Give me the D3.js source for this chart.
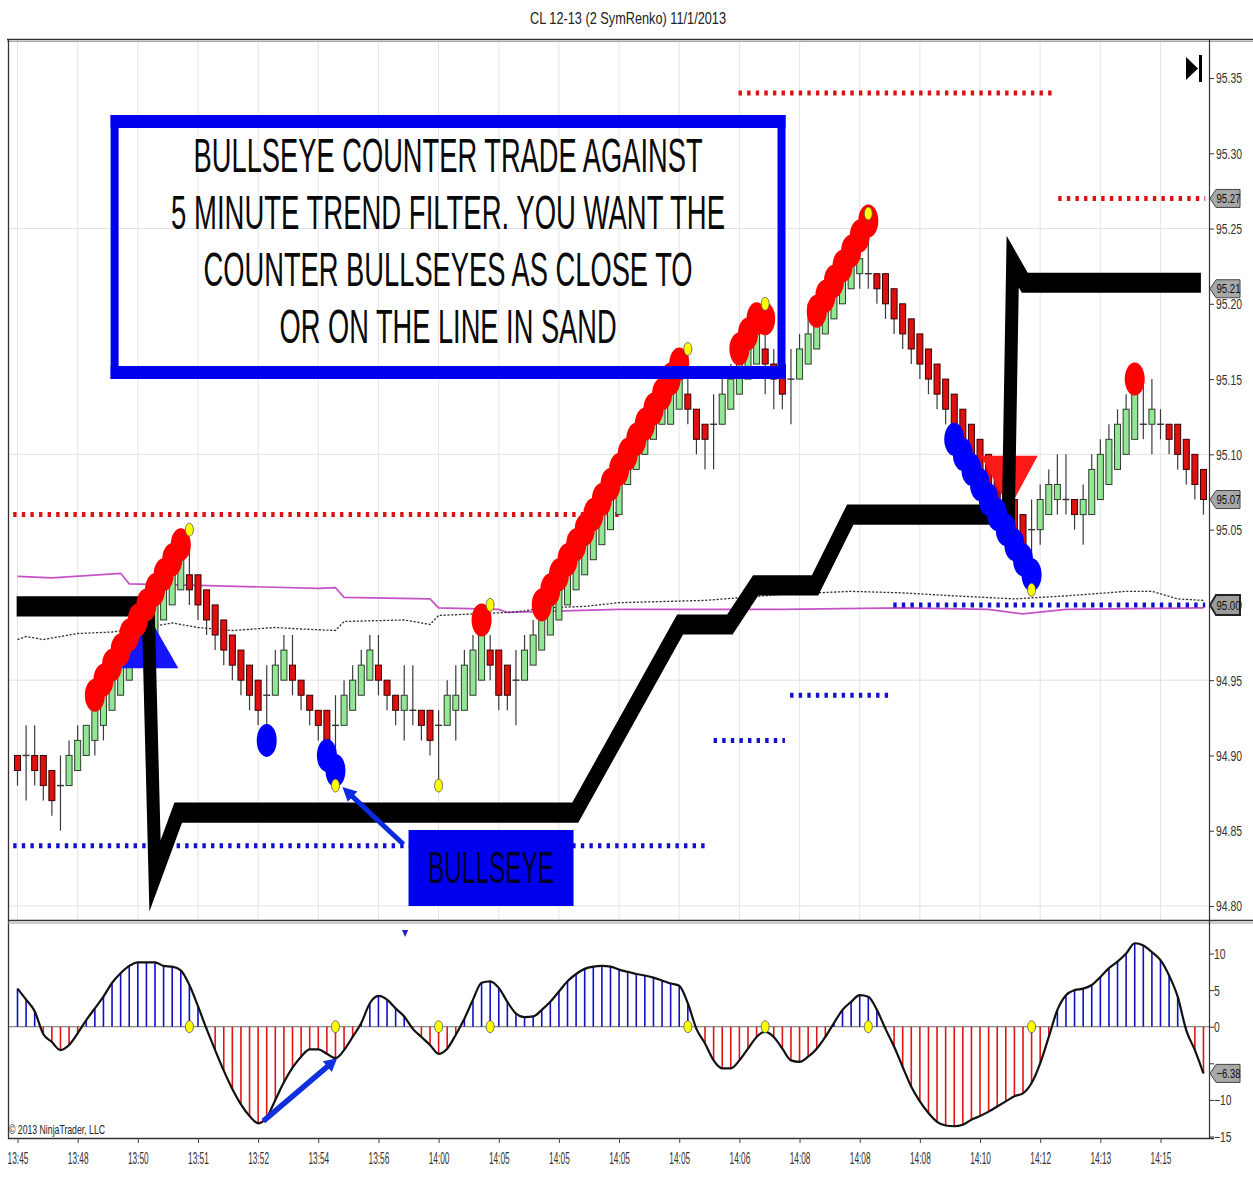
<!DOCTYPE html>
<html><head><meta charset="utf-8">
<script src="https://cdn.jsdelivr.net/npm/d3@7"></script>
<style>body{margin:0;background:#fff}svg{display:block}</style>
</head><body>
<svg id="c" width="1253" height="1199"></svg>
<script>
// ---------------- DATA ----------------
const chartTitle = "CL 12-13 (2 SymRenko)  11/1/2013";
const timeLabels = ["13:45","13:48","13:50","13:51","13:52","13:54","13:56","14:00","14:05","14:05","14:05","14:05","14:06","14:08","14:08","14:08","14:10","14:12","14:13","14:15"];
const priceTicks = [94.80,94.85,94.90,94.95,95.00,95.05,95.10,95.15,95.20,95.25,95.30,95.35];
const gridPrices = [94.80,94.95,95.10,95.25];
const oscTicks = [10,5,0,-5,-10,-15];

const opens = [94.90,94.90,94.90,94.90,94.89,94.88,94.88,94.89,94.90,94.91,
 94.92,94.93,94.94,94.95,94.96,94.97,94.98,94.99,95.00,95.01,
 95.02,95.02,95.01,95.00,94.99,94.98,94.97,94.96,94.95,94.94,
 94.94,94.95,94.96,94.95,94.94,94.93,94.93,94.92,94.92,94.93,
 94.94,94.95,94.96,94.95,94.94,94.93,94.93,94.93,94.93,94.92,
 94.92,94.93,94.93,94.94,94.95,94.97,94.97,94.96,94.95,94.95,
 94.96,94.97,94.98,94.99,95.00,95.01,95.02,95.03,95.04,95.05,
 95.06,95.08,95.09,95.10,95.11,95.12,95.12,95.13,95.14,95.13,
 95.12,95.12,95.12,95.13,95.14,95.15,95.16,95.17,95.16,95.16,
 95.15,95.15,95.16,95.17,95.18,95.19,95.20,95.21,95.22,95.22,
 95.22,95.22,95.21,95.20,95.19,95.18,95.17,95.16,95.15,95.14,
 95.13,95.12,95.11,95.10,95.09,95.08,95.07,95.06,95.05,95.05,
 95.06,95.07,95.07,95.07,95.06,95.06,95.07,95.08,95.09,95.10,
 95.11,95.12,95.12,95.12,95.12,95.12,95.11,95.10,95.09];
const highs = [94.90,94.92,94.92,94.90,94.89,94.90,94.91,94.92,94.92,94.93,
 94.94,94.95,94.96,94.97,94.98,94.99,95.00,95.01,95.02,95.03,
 95.04,95.02,95.01,95.00,94.99,94.98,94.97,94.96,94.95,94.96,
 94.97,94.98,94.98,94.95,94.94,94.93,94.93,94.94,94.95,94.96,
 94.97,94.98,94.98,94.95,94.94,94.96,94.96,94.93,94.93,94.93,
 94.95,94.96,94.97,94.98,95.00,94.98,94.97,94.96,94.97,94.98,
 94.99,95.00,95.01,95.02,95.03,95.04,95.05,95.06,95.07,95.08,
 95.09,95.11,95.12,95.13,95.14,95.15,95.15,95.16,95.17,95.13,
 95.12,95.14,95.15,95.16,95.17,95.18,95.19,95.20,95.17,95.16,
 95.17,95.18,95.20,95.20,95.21,95.22,95.23,95.24,95.25,95.26,
 95.22,95.22,95.21,95.20,95.19,95.18,95.17,95.16,95.15,95.14,
 95.13,95.12,95.11,95.10,95.09,95.08,95.07,95.06,95.07,95.08,
 95.09,95.10,95.10,95.07,95.08,95.10,95.11,95.12,95.13,95.14,
 95.15,95.15,95.15,95.13,95.12,95.12,95.11,95.10,95.09];
const lows = [94.88,94.87,94.88,94.87,94.86,94.85,94.88,94.89,94.90,94.90,
 94.91,94.93,94.94,94.95,94.96,94.97,94.98,94.99,95.00,95.01,
 95.00,94.99,94.98,94.97,94.96,94.95,94.94,94.93,94.92,94.92,
 94.94,94.95,94.94,94.93,94.92,94.91,94.90,94.88,94.92,94.93,
 94.94,94.95,94.94,94.93,94.92,94.91,94.92,94.91,94.90,94.88,
 94.92,94.91,94.93,94.94,94.95,94.95,94.93,94.93,94.92,94.95,
 94.96,94.97,94.98,94.99,95.00,95.01,95.02,95.03,95.04,95.05,
 95.06,95.08,95.09,95.10,95.11,95.12,95.12,95.13,95.12,95.10,
 95.09,95.09,95.12,95.13,95.14,95.15,95.16,95.14,95.13,95.13,
 95.12,95.15,95.16,95.17,95.18,95.19,95.20,95.21,95.21,95.21,
 95.20,95.19,95.18,95.17,95.16,95.15,95.14,95.13,95.12,95.11,
 95.10,95.09,95.08,95.07,95.06,95.05,95.04,95.03,95.01,95.04,
 95.06,95.06,95.06,95.05,95.04,95.06,95.07,95.08,95.09,95.10,
 95.11,95.11,95.10,95.11,95.10,95.09,95.08,95.07,95.06];
const closes = [94.89,94.90,94.89,94.88,94.87,94.88,94.90,94.91,94.92,94.93,
 94.94,94.95,94.96,94.97,94.98,94.99,95.00,95.01,95.02,95.03,
 95.01,95.00,94.99,94.98,94.97,94.96,94.95,94.94,94.93,94.94,
 94.96,94.97,94.95,94.94,94.93,94.92,94.91,94.92,94.94,94.95,
 94.96,94.97,94.95,94.94,94.93,94.94,94.93,94.92,94.91,94.92,
 94.94,94.94,94.96,94.97,94.98,94.96,94.94,94.94,94.95,94.97,
 94.98,94.99,95.00,95.01,95.02,95.03,95.04,95.05,95.06,95.07,
 95.08,95.10,95.11,95.12,95.13,95.14,95.14,95.15,95.13,95.11,
 95.11,95.12,95.14,95.15,95.16,95.17,95.18,95.16,95.15,95.14,
 95.15,95.17,95.18,95.19,95.20,95.21,95.22,95.23,95.23,95.22,
 95.21,95.20,95.19,95.18,95.17,95.16,95.15,95.14,95.13,95.12,
 95.11,95.10,95.09,95.08,95.07,95.06,95.05,95.04,95.05,95.07,
 95.08,95.08,95.07,95.06,95.07,95.09,95.10,95.11,95.12,95.13,
 95.14,95.12,95.13,95.12,95.11,95.10,95.09,95.08,95.07];

const oscValues = [5.2,3.7,2.1,-1.0,-2.1,-3.2,-2.5,-0.9,0.9,2.5,
 4.1,6.0,7.3,8.3,8.8,8.8,8.8,8.3,8.2,7.7,
 5.7,2.8,-0.3,-3.2,-6.0,-8.5,-10.6,-12.2,-13.2,-12.4,
 -10.0,-7.6,-5.6,-4.1,-3.1,-3.1,-3.7,-4.3,-3.2,-1.4,
 0.5,3.2,4.2,3.7,2.5,1.4,-0.3,-1.4,-2.5,-3.7,
 -3.0,-1.1,1.1,3.7,6.0,6.2,5.3,3.4,1.8,1.3,
 1.4,2.3,3.4,4.8,6.2,7.2,7.9,8.2,8.3,8.2,
 7.8,7.5,7.2,7.0,6.7,6.3,5.9,5.6,3.2,-0.3,
 -2.3,-4.6,-5.7,-5.7,-4.6,-3.0,-1.4,-0.7,-1.4,-3.0,
 -4.6,-4.8,-4.1,-3.0,-1.4,0.5,2.3,3.4,4.3,4.1,
 2.3,-0.3,-2.7,-5.5,-8.2,-10.2,-11.8,-13.0,-13.5,-13.6,
 -13.4,-12.7,-12.2,-11.6,-10.9,-10.2,-9.5,-9.1,-7.7,-5.0,
 -1.4,2.3,4.3,5.0,5.2,5.7,6.8,8.0,8.9,10.0,
 11.4,11.1,10.2,9.1,7.0,4.1,-0.5,-3.2,-6.38];

const pinkBars = [0,4,12,13,21,35,37,38,48,49,56,57,70,89,103,113,117,122,138];
const pinkValues = [95.019,95.018,95.021,95.014,95.013,95.011,95.0115,95.005,95.004,94.998,94.997,94.995,94.997,94.997,94.998,94.997,94.994,94.997,94.998];
const grayBars = [0,1,3,7,11,15,18,21,25,30,33,37,38,45,48,49,53,57,59,61,66,70,80,89,97,103,109,116,122,129,132,135,138];
const grayValues = [94.977,94.979,94.977,94.981,94.982,94.985,94.988,94.985,94.983,94.985,94.984,94.983,94.989,94.990,94.987,94.993,94.994,94.995,94.996,94.998,94.999,95.0015,95.003,95.007,95.009,95.008,95.006,95.004,95.006,95.009,95.009,95.004,95.003];

const levelFrom = [-0.5, 83.9, 121.1, -0.5, 81.0, 89.9, 101.9];
const levelTo = [70.4, 120.4, 138.2, 80.4, 89.3, 101.3, 138.2];
const levelPrice = [95.06, 95.34, 95.27, 94.84, 94.91, 94.94, 95.00];
const levelKind = ["high","high","high","low","low","low","low"];

const sandBars = [-0.1, 15.2, 16.0, 18.7, 64.9, 77.1, 82.9, 85.9, 92.8, 96.9, 115.3, 115.8, 117.2, 137.7];
const sandPrices = [94.999, 94.999, 94.82, 94.862, 94.862, 94.987, 94.987, 95.013, 95.013, 95.06, 95.06, 95.228, 95.214, 95.214];

const redDotBars = [9,10,11,12,13,14,15,16,17,18,19, 54, 61,62,63,64,65,66,67,68,69,70,71,72,73,74,75,76,77, 84,85,86,87, 93,94,95,96,97,98,99, 130];
const redDotPrices = [94.94,94.95,94.96,94.97,94.98,94.99,95.00,95.01,95.02,95.03,95.04, 94.99, 95.00,95.01,95.02,95.03,95.04,95.05,95.06,95.07,95.08,95.09,95.10,95.11,95.12,95.13,95.14,95.15,95.16, 95.17,95.18,95.19,95.19, 95.195,95.205,95.215,95.225,95.235,95.245,95.255, 95.15];
const blueDotBars = [29, 36, 37, 109,110,111,112,113,114,115,116,117,118];
const blueDotPrices = [94.91, 94.90, 94.89, 95.11,95.10,95.09,95.08,95.07,95.06,95.05,95.04,95.03,95.02];
const yellowBars = [20, 37, 49, 55, 78, 87, 99, 118];
const yellowPrices = [95.05, 94.88, 94.88, 95.00, 95.17, 95.20, 95.26, 95.01];

const triangleBars = [15.4, 115.4];
const triangleTip = [94.991, 95.064];
const triangleBase = [94.958, 95.099];
const triangleDir = ["up", "down"];

const priceFlags = [95.27, 95.21, 95.07, 95.00];
const oscFlags = [-6.38];

const noteLines = ["BULLSEYE COUNTER TRADE AGAINST", "5 MINUTE TREND FILTER. YOU WANT THE", "COUNTER BULLSEYES AS CLOSE TO", "OR ON THE LINE IN SAND"];
const noteLengths = [509, 554, 489, 337];
const bullseyeLabel = "BULLSEYE";
const copyright = "\u00A9 2013 NinjaTrader, LLC";

// ---------------- DRAW ----------------
const svg = d3.select('#c');
const FONT = '"Liberation Sans", Arial, sans-serif';
const x = d3.scaleLinear().domain([0, 133]).range([17.5, 1160.5]);
const y = d3.scaleLinear().domain([94.80, 95.35]).range([906, 78]);
const yo = d3.scaleLinear().domain([-15, 10]).range([1136.5, 953.5]);
const N = closes.length;
const AX = 1209;

function ttext(parent, str, tx, ty, o) {
  const g = parent.append('g').attr('transform', `translate(${tx},${ty}) scale(1,${o.sy || 1})`);
  const t = g.append('text').text(str).attr('font-family', o.family || FONT)
    .attr('font-size', o.size).attr('text-anchor', o.anchor || 'start')
    .attr('fill', o.fill || '#000');
  if (o.weight) t.attr('font-weight', o.weight);
  if (o.len) t.attr('textLength', o.len).attr('lengthAdjust', 'spacingAndGlyphs');
  return t;
}

svg.append('rect').attr('width', 1253).attr('height', 1199).attr('fill', '#fff');

// title
ttext(svg, chartTitle, 628, 24, {size: 12.4, sy: 1.4, anchor: 'middle', fill: '#222', len: 196});

// grid
const grid = svg.append('g');
grid.selectAll('line.v').data(d3.range(0, 134, 7)).join('line')
  .attr('x1', d => x(d)).attr('x2', d => x(d)).attr('y1', 41).attr('y2', 920)
  .attr('stroke', '#e6e6e6').attr('stroke-width', 1);
grid.selectAll('line.h').data(gridPrices).join('line')
  .attr('x1', 9).attr('x2', AX).attr('y1', d => y(d)).attr('y2', d => y(d))
  .attr('stroke', '#e2e2e2').attr('stroke-width', 1);

// moving averages
const pinkLine = d3.line().x(d => x(d[0])).y(d => y(d[1]));
svg.append('path').attr('d', pinkLine(d3.zip(pinkBars, pinkValues)))
  .attr('fill', 'none').attr('stroke', '#c653c6').attr('stroke-width', 1.7);
svg.append('path').attr('d', pinkLine(d3.zip(grayBars, grayValues)))
  .attr('fill', 'none').attr('stroke', '#333').attr('stroke-width', 1.3).attr('stroke-dasharray', '2.2,1.6');

// dotted levels
svg.append('g').selectAll('line').data(d3.range(levelPrice.length)).join('line')
  .attr('x1', i => x(levelFrom[i])).attr('x2', i => x(levelTo[i]))
  .attr('y1', i => y(levelPrice[i])).attr('y2', i => y(levelPrice[i]))
  .attr('stroke', i => levelKind[i] === 'high' ? '#dd1111' : '#1111cc')
  .attr('stroke-width', 5).attr('stroke-dasharray', '3.4,5.2');

// candles
const cg = svg.append('g');
const idx = d3.range(N);
cg.selectAll('line.w').data(idx).join('line')
  .attr('x1', i => x(i)).attr('x2', i => x(i))
  .attr('y1', i => y(highs[i])).attr('y2', i => y(lows[i]))
  .attr('stroke', '#3a3a3a').attr('stroke-width', 1.2);
cg.selectAll('rect.b').data(idx.filter(i => opens[i] !== closes[i])).join('rect')
  .attr('x', i => x(i) - 3).attr('width', 6)
  .attr('y', i => y(Math.max(opens[i], closes[i])))
  .attr('height', i => Math.abs(y(opens[i]) - y(closes[i])))
  .attr('fill', i => closes[i] > opens[i] ? '#93e693' : '#e01010')
  .attr('stroke', i => closes[i] > opens[i] ? '#2d3d2d' : '#3a0000').attr('stroke-width', 1);
cg.selectAll('line.d').data(idx.filter(i => opens[i] === closes[i])).join('line')
  .attr('x1', i => x(i) - 3.5).attr('x2', i => x(i) + 3.5)
  .attr('y1', i => y(closes[i])).attr('y2', i => y(closes[i]))
  .attr('stroke', '#333').attr('stroke-width', 1.4);

// signal triangles
svg.append('g').selectAll('path').data(d3.range(triangleBars.length)).join('path')
  .attr('d', i => {
    const cx = x(triangleBars[i]), hw = 28.5;
    return `M${cx},${y(triangleTip[i])}L${cx + hw},${y(triangleBase[i])}L${cx - hw},${y(triangleBase[i])}Z`;
  })
  .attr('fill', i => triangleDir[i] === 'up' ? '#1515ff' : '#ff1a1a');

// line in sand (anisotropic thick line)
const S = 1.55;
const gS = svg.append('g').attr('transform', `scale(1,${S})`);
const sandLine = d3.line().x(d => x(d[0])).y(d => y(d[1]) / S);
gS.append('path').attr('d', sandLine(d3.zip(sandBars, sandPrices)))
  .attr('fill', 'none').attr('stroke', '#000').attr('stroke-width', 13)
  .attr('stroke-linejoin', 'miter').attr('stroke-miterlimit', 10);

// dots
svg.append('g').selectAll('ellipse').data(d3.range(redDotBars.length)).join('ellipse')
  .attr('cx', i => x(redDotBars[i])).attr('cy', i => y(redDotPrices[i]))
  .attr('rx', 10).attr('ry', 16.5).attr('fill', '#ff0000');
svg.append('g').selectAll('ellipse').data(d3.range(blueDotBars.length)).join('ellipse')
  .attr('cx', i => x(blueDotBars[i])).attr('cy', i => y(blueDotPrices[i]))
  .attr('rx', 10).attr('ry', 16.5).attr('fill', '#0000ff');
svg.append('g').selectAll('ellipse').data(d3.range(yellowBars.length)).join('ellipse')
  .attr('cx', i => x(yellowBars[i])).attr('cy', i => y(yellowPrices[i]))
  .attr('rx', 4).attr('ry', 6.5).attr('fill', '#ffff00').attr('stroke', '#555').attr('stroke-width', 0.8);

// annotation box
const bx0 = x(11.3), bx1 = x(88.9), by0 = 115, by1 = 379, vw = 8, hw = 13;
const ann = svg.append('g').attr('fill', '#0000f0');
ann.append('rect').attr('x', bx0 - vw / 2).attr('y', by0).attr('width', bx1 - bx0 + vw).attr('height', hw);
ann.append('rect').attr('x', bx0 - vw / 2).attr('y', by1 - hw).attr('width', bx1 - bx0 + vw).attr('height', hw);
ann.append('rect').attr('x', bx0 - vw / 2).attr('y', by0).attr('width', vw).attr('height', by1 - by0);
ann.append('rect').attr('x', bx1 - vw / 2).attr('y', by0).attr('width', vw).attr('height', by1 - by0);
const noteBase = [172, 229, 286, 343];
noteLines.forEach((s, i) => ttext(svg, s, (bx0 + bx1) / 2, noteBase[i], {size: 28, sy: 1.75, anchor: 'middle', len: noteLengths[i], fill: '#0a0a0a'}));

// bullseye box + arrow
const bbx0 = x(45.5), bbx1 = x(64.7), bby0 = y(94.8505), bby1 = y(94.80);
svg.append('rect').attr('x', bbx0).attr('y', bby0).attr('width', bbx1 - bbx0).attr('height', bby1 - bby0).attr('fill', '#0000ee');
ttext(svg, bullseyeLabel, (bbx0 + bbx1) / 2, 883, {size: 26, sy: 1.72, anchor: 'middle', len: 126, fill: '#00002a'});

function arrow(x1, y1, x2, y2, w, hl, hwid, color) {
  const dx = x2 - x1, dy = y2 - y1, L = Math.hypot(dx, dy), ux = dx / L, uy = dy / L, px = -uy, py = ux;
  const bx = x2 - ux * hl, by = y2 - uy * hl;
  const p = [[x1 + px * w / 2, y1 + py * w / 2], [bx + px * w / 2, by + py * w / 2], [bx + px * hwid, by + py * hwid], [x2, y2],
    [bx - px * hwid, by - py * hwid], [bx - px * w / 2, by - py * w / 2], [x1 - px * w / 2, y1 - py * w / 2]];
  svg.append('path').attr('d', 'M' + p.map(q => q.join(',')).join('L') + 'Z').attr('fill', color);
}
arrow(x(44.9), y(94.841), x(37.8), y(94.879), 5, 14, 7, '#0a2adf');

// ---------------- OSCILLATOR ----------------
const og = svg.append('g');
og.append('line').attr('x1', 9).attr('x2', AX).attr('y1', yo(0)).attr('y2', yo(0)).attr('stroke', '#8a8a8a').attr('stroke-width', 1.3);
og.selectAll('line.bar').data(idx).join('line')
  .attr('x1', i => x(i)).attr('x2', i => x(i)).attr('y1', yo(0)).attr('y2', i => yo(oscValues[i]))
  .attr('stroke', i => oscValues[i] >= 0 ? '#1010c8' : '#e01515').attr('stroke-width', 1.6);
og.append('path').attr('d', d3.line().curve(d3.curveMonotoneX).x((d, i) => x(i)).y(d => yo(d))(oscValues))
  .attr('fill', 'none').attr('stroke', '#111').attr('stroke-width', 2.2);
og.selectAll('ellipse').data(yellowBars).join('ellipse')
  .attr('cx', d => x(d)).attr('cy', yo(0)).attr('rx', 4).attr('ry', 6)
  .attr('fill', '#ffff00').attr('stroke', '#555').attr('stroke-width', 0.8);
arrow(x(28.6), yo(-12.9), x(37.2), yo(-4.3), 5.5, 13, 7, '#1030e0');
// small marker
svg.append('path').attr('d', `M${x(45.1) - 3},930L${x(45.1) + 3},930L${x(45.1)},937Z`).attr('fill', '#1a1ad0');

// ---------------- FRAMES & AXES ----------------
const fr = svg.append('g').attr('fill', 'none');
fr.append('line').attr('x1', 7).attr('x2', 1253).attr('y1', 39.5).attr('y2', 39.5).attr('stroke', '#333').attr('stroke-width', 1.5);
fr.append('line').attr('x1', 7).attr('x2', 1253).attr('y1', 41.5).attr('y2', 41.5).attr('stroke', '#aaa').attr('stroke-width', 1);
fr.append('line').attr('x1', 8.5).attr('x2', 8.5).attr('y1', 39).attr('y2', 1139).attr('stroke', '#333').attr('stroke-width', 1.3);
fr.append('line').attr('x1', 8).attr('x2', 1253).attr('y1', 920.5).attr('y2', 920.5).attr('stroke', '#333').attr('stroke-width', 1.5);
fr.append('line').attr('x1', 8).attr('x2', 1253).attr('y1', 923).attr('y2', 923).attr('stroke', '#999').attr('stroke-width', 1);
fr.append('line').attr('x1', 8).attr('x2', 1214).attr('y1', 1138.5).attr('y2', 1138.5).attr('stroke', '#333').attr('stroke-width', 1.5);
fr.append('line').attr('x1', AX + 0.5).attr('x2', AX + 0.5).attr('y1', 40).attr('y2', 1139).attr('stroke', '#333').attr('stroke-width', 1.2);

function styleAxis(g, size, sy, dx) {
  g.select('.domain').remove();
  g.selectAll('.tick line').attr('stroke', '#333');
  g.selectAll('.tick text').attr('font-family', FONT).attr('font-size', size).attr('fill', '#333')
    .attr('x', dx).attr('dy', '0.35em').attr('transform', `scale(1,${sy})`);
}
const ya = svg.append('g').attr('transform', `translate(${AX},0)`)
  .call(d3.axisRight(y).tickValues(priceTicks).tickFormat(d3.format('.2f')).tickSize(5));
styleAxis(ya, 10.4, 1.35, 7);
// the -5 label is hidden behind the value flag in the reference
const oa = svg.append('g').attr('transform', `translate(${AX},0)`)
  .call(d3.axisRight(yo).tickValues(oscTicks).tickFormat(d => d === -5 ? '' : d3.format('d')(d)).tickSize(5));
styleAxis(oa, 10.4, 1.35, 7);
oa.selectAll('.tick text').attr('dx', -2);

const xa = svg.append('g').attr('transform', 'translate(0,1138)')
  .call(d3.axisBottom(x).tickValues(d3.range(0, 134, 7)).tickFormat((d, i) => timeLabels[i]).tickSize(5));
xa.select('.domain').remove();
xa.selectAll('.tick line').attr('stroke', '#444');
xa.selectAll('.tick text').attr('font-family', FONT).attr('font-size', 8.3).attr('fill', '#333')
  .attr('y', 13).attr('dy', 0).attr('transform', 'scale(1,2.0)');

// flags
function flag(yy, label, bold) {
  const g = svg.append('g');
  const x0 = AX + 1, h = bold ? 10 : 9;
  g.append('path').attr('d', `M${x0},${yy}L${x0 + 6},${yy - h}L${x0 + 30},${yy - h}L${x0 + 30},${yy + h}L${x0 + 6},${yy + h}Z`)
    .attr('fill', bold ? '#9c9c9c' : '#a8a8a8').attr('stroke', bold ? '#222' : '#444').attr('stroke-width', bold ? 2 : 1);
  ttext(g, label, x0 + 18.5, yy + 4.6, {size: 9.6, sy: 1.35, anchor: 'middle', fill: '#111', len: 24});
}
priceFlags.forEach(v => flag(y(v), d3.format('.2f')(v), v === 95.00));
oscFlags.forEach(v => flag(yo(v), d3.format('.2f')(v), false));

// copyright
ttext(svg, copyright, 9, 1134, {size: 9.4, sy: 1.4, fill: '#222', len: 96});

// end-of-chart icon
svg.append('path').attr('d', 'M1186,57L1198,68.5L1186,80Z').attr('fill', '#000');
svg.append('rect').attr('x', 1199).attr('y', 55).attr('width', 3).attr('height', 27).attr('fill', '#000');
</script>
</body></html>
